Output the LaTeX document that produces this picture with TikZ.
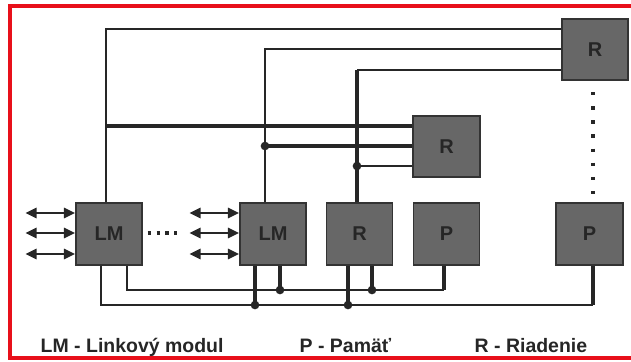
\documentclass[tikz,border=0pt]{standalone}
\usepackage{fontspec}
\setmainfont{Liberation Sans}
\usetikzlibrary{calc,arrows.meta}
\definecolor{boxfill}{HTML}{676767}
\definecolor{boxedge}{HTML}{333333}
\definecolor{wire}{HTML}{262626}
\definecolor{frame}{HTML}{E8101A}
\begin{document}
\begin{tikzpicture}[x=0.75pt,y=-0.75pt,
  blk/.style={draw=boxedge,fill=boxfill,line width=1.1pt,inner sep=0pt,
    minimum width=49.5pt,minimum height=46.5pt,
    font=\bfseries\fontsize{15}{18}\selectfont,text=black!85},
  thinw/.style={draw=wire,line width=1.1pt},
  thickw/.style={draw=wire,line width=2.4pt},
  joint/.style={fill=wire,circle,inner sep=0pt,minimum size=6.5pt},
  dbl/.style={draw=wire,line width=2.2pt,{Triangle[length=8.5pt,width=7.5pt]}-{Triangle[length=8.5pt,width=7.5pt]}},
  legend/.style={anchor=base west,font=\bfseries\fontsize{14.6}{18}\selectfont,text=black!85}
]
\useasboundingbox (0,0) rectangle (631,361);
% frame
\draw[frame,line width=2.3pt] (640,6) -- (10,6) -- (10,358) -- (640,358);

% blocks
\node[blk] (LM1) at (109,234) {LM};
\node[blk] (LM2) at (273,234) {LM};
\node[blk] (Rb) at (359.5,234) {R};
\node[blk] (Pb) at (446.5,234) {P};
\node[blk,minimum width=50.25pt] (Pr) at (589.5,234) {\raisebox{-3pt}{P}};
\node[blk,minimum width=50.25pt,minimum height=45.75pt] (Rm) at (446.5,146.5) {R};
\node[blk,minimum height=45.75pt] (Rt) at (595,49.5) {R};

% horizontal levels
\coordinate (h1) at (0,29);
\coordinate (h2) at (0,49);
\coordinate (h3) at (0,70);
\coordinate (h4) at (0,126);
\coordinate (h5) at (0,146);
\coordinate (h6) at (0,166);
\coordinate (yA) at (0,290);
\coordinate (yB) at (0,305);

% vertical taps
\coordinate (a1) at ($(LM1.north)+(-3,0)$);
\coordinate (a2) at ($(LM2.north)+(-8,0)$);
\coordinate (a3) at ($(Rb.north)+(-2.5,0)$);

% top wires to Rt
\draw[thinw] (a1) |- (h1 -| Rt.west);
\draw[thinw] (a2) |- (h2 -| Rt.west);
\draw[thickw] (a3) -- (a3 |- h3);
\draw[thinw] (a3 |- h3) -- (h3 -| Rt.west);

% wires to Rm
\draw[thickw] (a1 |- h4) -- (h4 -| Rm.west);
\node[joint] (j1) at (a2 |- h5) {};
\draw[thickw] (j1.center) -- (h5 -| Rm.west);
\node[joint] (j2) at (a3 |- h6) {};
\draw[thinw] (j2.center) -- (h6 -| Rm.west);

% dotted link between Rt and Pr
\coordinate (d1) at (593,92);
\coordinate (d2) at (593,199);
\draw[wire,line width=2.6pt,dash pattern=on 2.6pt off 8pt] (d1) -- (d2);

% dots between LM blocks
\draw[wire,line width=2.4pt,dash pattern=on 2.4pt off 4.2pt] ($(LM1.east)+(5,-1)$) -- ($(LM1.east)+(38,-1)$);

% arrows
\foreach \dy/\n in {-21/a,-1/b,20/c}{
  \coordinate (L1\n) at ($(LM1.west)+(-50,\dy)$);
  \draw[dbl] (L1\n) -- ($(LM1.west)+(0,\dy)$);
  \coordinate (L2\n) at ($(LM2.west)+(-50,\dy)$);
  \draw[dbl] (L2\n) -- ($(LM2.west)+(0,\dy)$);
}

% bottom taps
\coordinate (b1) at ($(LM1.south)+(-8,0)$);
\coordinate (b2) at ($(LM1.south)+(18,0)$);
\coordinate (b3) at ($(LM2.south)+(-18,0)$);
\coordinate (b4) at ($(LM2.south)+(7,0)$);
\coordinate (b5) at ($(Rb.south)+(-11.5,0)$);
\coordinate (b6) at ($(Rb.south)+(12.5,0)$);
\coordinate (b7) at ($(Pb.south)+(-2.5,0)$);
\coordinate (b8) at ($(Pr.south)+(3.5,0)$);

% bus A and bus B
\draw[thinw] (b2) |- (b7 |- yA);
\draw[thickw] (b7) -- (b7 |- yA);
\draw[thinw] (b1) |- (b8 |- yB);
\draw[thickw] (b8) -- (b8 |- yB);

\node[joint] (j3) at (b3 |- yB) {};
\draw[thickw] (b3) -- (j3.center);
\node[joint] (j4) at (b4 |- yA) {};
\draw[thickw] (b4) -- (j4.center);
\node[joint] (j5) at (b5 |- yB) {};
\draw[thickw] (b5) -- (j5.center);
\node[joint] (j6) at (b6 |- yA) {};
\draw[thickw] (b6) -- (j6.center);

% legend
\node[legend] (t1) at (36,352) {LM - Linkový modul};
\node[legend] (t2) at (295,352) {P - Pamäť};
\node[legend] (t3) at (470,352) {R - Riadenie};
\end{tikzpicture}
\end{document}
